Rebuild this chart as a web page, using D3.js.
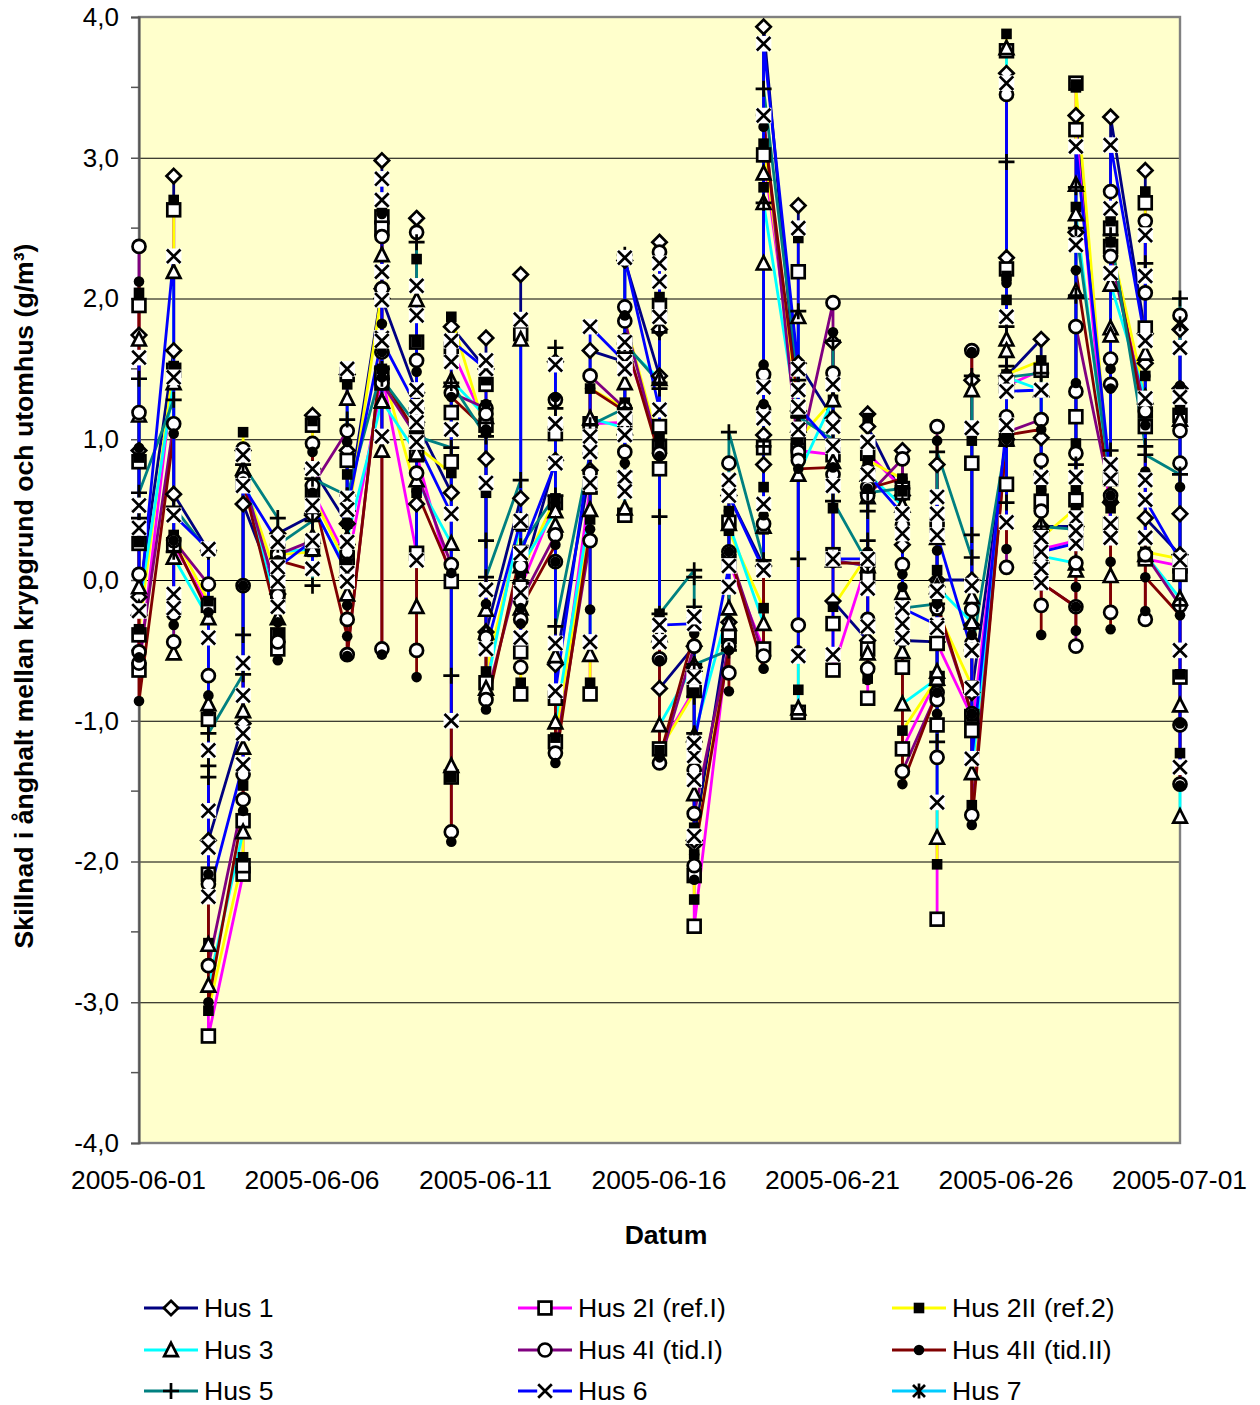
<!DOCTYPE html>
<html><head><meta charset="utf-8">
<script src="https://cdn.jsdelivr.net/npm/d3@7/dist/d3.min.js"></script>
<style>html,body{margin:0;padding:0;background:#fff}svg{display:block}text{font-family:"Liberation Sans",Arial,sans-serif;fill:#000}</style>
</head><body><svg id="c" width="1260" height="1405"></svg>
<script>
const startDate = "2005-06-01", endDate = "2005-07-01";
const yTickValues = [-4,-3,-2,-1,0,1,2,3,4];
const yMinorValues = [-3.5,-2.5,-1.5,-0.5,0.5,1.5,2.5,3.5];
const xTickLabels = ["2005-06-01","2005-06-06","2005-06-11","2005-06-16","2005-06-21","2005-06-26","2005-07-01"];
const seriesNames = ["Hus 1","Hus 2I (ref.I)","Hus 2II (ref.2)","Hus 3","Hus 4I (tid.I)","Hus 4II (tid.II)","Hus 5","Hus 6","Hus 7"];
const seriesColors = ["#000080","#FF00FF","#FFFF00","#00FFFF","#800080","#800000","#008080","#0000FF","#00CCFF"];
const seriesMarkers = ["diamond","square","smallSquare","triangle","circle","smallCircle","plus","cross","star"];
// one inner list per calendar day, 2005-06-01 .. 2005-07-01, in reading order
const hus1 = [[1.74,0.92,-0.12],[1.63,2.87,0.61],[0.21,-1.85],[-1.02,0.92,0.54],[-0.10,0.33],[0.46,1.17,0.79],[0.40,1.46,0.92,0.49],[2.07,2.98,2.0],[1.33,2.57,0.54,1.12],[0.62,1.80],[1.50,1.72,0.86,-0.37],[0.58,2.17,-0.02],[0.85,1.55,-0.6],[0.78,1.63],[1.55,2.27],[1.45,2.40,1.78,-0.77],[-0.47,-0.62,-1.88,-1.85],[-0.3,0.6],[0.1,0.82,1.03,3.93],[1.2,2.66,1.54],[1.15,1.69,-0.15],[-0.43,1.18,1.09],[0.6,0.92,0.25,-0.43],[-0.44,0.82,0],[0,1.42,-0.32,-0.8],[1.0,2.29,3.60,1.45],[1.71,1.01,0.38],[0.38,2.47,3.30],[0.55,3.29],[1.75,2.91,1.54,0.44],[0.18,0.47,1.36,1.78]];
const hus2I = [[1.95,0.84,0.26,-0.39,-0.64],[1.49,2.63,0.25],[-0.18,-0.99,-2.09,-3.24],[-2.09,-2.03,-1.71,0.69],[-0.11,-0.39,-0.49,0.2],[0.22,1.10,0.63],[0.15,1.46,0.85,0.10],[1.40,2.58,2.50,1.47],[0.19,1.02,1.69,0.89],[-0.01,0.84,1.19,-1.40,1.64],[1.1,1.39,-0.73],[0.41,1.75,-0.81,-0.51,-0.05],[0.55,1.04,-0.84,-1.15],[0.66,-0.81,1.11],[1.12,0.46,1.68],[0.95,1.95,1.09,0.79,-1.20],[-0.78,-2.10,-2.46],[-0.4,0.41,-0.4,0.13],[-0.49,0.94,3.02],[1.2,2.19,0.97,-0.94,0.92],[0.89,0.18,-0.31,-0.64],[0.14,0.02,-0.49,-0.84,0.9],[0.65,0.62,-0.62,-1.20],[-0.7,0.39,-0.45,-1.03,-2.41,-0.45],[-0.97,0.83,-1.07],[1.0,3.76,0.68,2.21,1.38],[1.49,0.56,0.22],[0.28,3.53,1.16,0.57,3.2],[0.4,0.72,2.50,2.37],[1.2,2.68,1.09,1.79,0.15],[0.1,0.04,1.17,-0.69]];
const hus2II = [[2.04,0.87,0.27,-0.35],[1.52,2.70,0.32],[-0.15,-0.93,-2.58,-3.06],[-1.97,-1.46,1.05,0.72],[0.0,-0.38,0.18],[0.2,1.13,0.6],[0.1,1.39,0.75,0.4],[2.05,2.63,1.5],[0.62,2.28,1.69,0.95],[0.76,-1.40,1.87],[1.05,1.42,1.24,0.62,-0.65],[0.38,-0.73,0.05],[0.58,0.52,-1.12],[0.43,-0.73,1.36],[1.22,0.7,1.26,1.85],[0.95,2.01,1.02,-0.24,-1.21],[-0.8,-2.27,-1.76,-1.95],[-0.45,0.49,0.35],[-0.2,0.36,0.66,2.79,3.10],[1.2,2.43,-0.78,1.0],[1.28,0.51,-0.19],[0.18,1.15,0.09,-0.7,0.85],[0.72,0.63,-1.07],[-0.7,0.07,-0.17,-0.79,-2.02,-0.22],[-0.75,0.99,-0.97,-1.6],[1.0,3.88,2.16,1.99,1.46],[1.56,0.64,0.30],[0.51,3.52,2.65,0.97,0.64,3.50],[0.6,0.51,2.55,2.40],[1.3,2.76,1.45,0.2],[0.15,1.21,-0.67,-1.23]];
const hus3 = [[1.71,1.17,-0.05,-0.2],[1.40,2.19,-0.52,0.16],[-0.27,-0.88,-2.59,-2.88],[-1.79,-1.19,-0.93,0.79],[-0.27,0.2],[0.22,0.31,0.52],[0.07,1.29,-0.1,0.3],[1.27,2.31,0.92,1.27],[0.90,1.99,-0.19,0.71],[0.26,-1.32,1.42],[1.16,-0.21,-0.37,-0.77],[0.42,1.71,-0.2,0.10],[0.49,0.39,-0.54,-1.01],[0.5,-0.53,1.15],[1.08,0.51,1.40,1.66],[1.43,-0.39,-1.03],[-0.6,-1.52,-1.1],[-0.2,-0.31,0.4],[-0.31,0.38,2.25,2.89,2.68],[1.1,1.87,-0.91,0.75],[1.28,0.84,0.14],[0.1,-0.52,0.59,0.75],[0.53,-0.09,-0.51,-0.88],[-0.7,0.30,0,-0.65,-1.83,-0.05],[-0.3,1.35,-0.12,-1.37],[1.0,3.78,1.71,1.63,1.44],[1.35,0.4,0.17],[0.12,2.81,2.05,0.07,2.6],[0.6,0.03,1.79,1.74,2.10],[1.3,1.61,0.18],[-0.13,1.14,-0.89,-1.68]];
const hus4I = [[2.37,1.19,0.04,-0.51,-0.59],[1.11,-0.24,-0.44,0.28],[-0.03,-0.68,-2.16,-2.74],[-1.56,-1.38,-0.04,0.93,0.72],[-0.11,-0.44,0.18],[0.28,0.97,0.67],[1.06,0.20,-0.28,-0.53],[1.62,2.44,2.07,-0.49,1.40],[1.02,2.47,1.56,-0.50,0.76],[0.11,-1.79,1.33],[1.22,1.18,-0.41,-0.85],[0.1,-0.28,-0.62,-0.15],[0.32,1.28,0.13,-1.23],[0.28,0.76,1.45],[1.22,0.91,1.94,1.84],[0.9,2.33,-0.56,-1.30],[-0.47,-1.35,-2.03,-1.66],[-0.47,0.83,0.13,-0.66,0.2],[-0.54,0.40,1.46,1.21,3.30],[0.91,-0.32,0.85],[1.97,1.47,0.75,0.14],[0.1,0.78,0.66,-0.28,-0.63,0.6],[0.86,0.39,0.11,-1.36],[-0.8,1.09,-0.85,-1.26,-0.2],[-0.95,1.63,-0.21,-0.45,-1.67],[1.0,3.45,1.16,0.09,1.05],[1.14,0.85,0.49,-0.18,-0.02],[-0.19,1.34,0.90,0.12,-0.47,1.8],[0.6,-0.23,1.57,1.39,2.76,2.30],[1.2,2.55,2.04,-0.28,0.18],[-0.18,1.88,1.06,0.83,-1.03,-1.45]];
const hus4II = [[2.12,0.94,0.28,-0.55,-0.86],[1.04,-0.32,0.28],[-0.23,-0.82,-2.09,-3.0],[-1.64,-0.04,0.70],[-0.3,-0.57,0.14],[0.07,0.91,0.62],[-0.40,0.98,0.13,-0.18,-0.54],[1.62,2.60,1.82,-0.53,1.44],[1.04,-0.69,1.48,0.63],[0.05,-1.86,1.30],[1.07,1.25,-0.17,-0.92],[0.19,-0.31,-0.2],[0.25,1.30,0.13,-1.30],[0.36,-0.21,1.36],[1.2,0.83,1.88,1.72],[0.88,-0.57,-1.26],[-0.38,-2.13,-1.95],[-0.5,0.49,-0.79,0.2],[-0.63,0.46,1.53,1.25,3.22],[1.25,-0.50,0.79],[0.8,1.76,0.12],[0.12,0.2,-0.71,0.65],[0.72,0.04,-0.05,-1.45],[-0.8,0.99,0.21,-0.95,-0.17],[-0.95,1.62,-0.39,-0.95,-1.74],[1.0,2.11,0.22,1.07,1.03],[1.07,0.64,-0.39,-0.02],[-0.19,1.40,-0.05,-0.36,2.2],[0.6,-0.35,1.5,1.36,0.13,2.40],[1.1,1.45,0.77,-0.22,0.02],[-0.25,0.66,1.38,-1.02,-1.46]];
const hus5 = [[1.43,0.44,0.62],[1.28,0.20,0.52],[0.2,-1.32,-1.40,-1.09],[-0.67,-0.39,0.82],[0.44,0.25],[0.42,-0.04,0.72],[0.6,1.14,0.0,0.60],[1.5,1.72,1.43],[1.1,2.4,1.22,1.02],[0.94,-0.68,1.40],[1.02,0.28,0.02],[0.71,0.24],[0.6,1.65,1.22,-0.33],[0.9,1.10],[1.22,2.31,0.77,1.68],[1.40,1.76,1.36,0.45,-0.24],[0.07,0.02,-0.19,-0.83,-1.09,-0.6],[-0.5,1.05],[0.14,0.95,2.68,3.49],[1.42,1.91,0.15,1.16],[1.0,1.70,0.56],[0.12,0.28,0.49,0.62],[0.65,-0.2],[-0.17,-1.15,0.91],[0.16,1.45,0.32,-0.5],[1.0,2.97,1.80,0.55,1.52,1.44],[1.47,0.75,0.38],[0.36,2.79,2.02,0.82,2.5],[0.7,0.92,2.45],[0.95,2.25,0.89],[0.75,2.0,-0.18]];
const hus6 = [[1.58,0.53,0.37,-0.22],[2.30,1.44,-0.10,-0.20,0.46],[0.22,-0.41,-1.64,-1.90,-1.21,-2.25],[-1.31,-1.09,-0.82,-0.59,0.89,0.67],[0.27,-0.01,-0.19,0.09],[0.28,0.79,0.08,0.53],[0.05,1.50,0.58,0.27,-0.01,0.5],[1.72,2.85,2.70,2.19,1.99,1.02,1.7],[1.23,2.09,1.88,1.35,1.12,0.14,0.98],[0.47,-1.0,1.07,1.55,1.70],[1.50,1.56,0.69,-0.07,-0.49],[0.42,1.85,-0.41,-0.09,0.19],[0.83,1.53,1.11,-0.45,-0.79],[0.91,-0.44,0.69,1.02,1.80],[1.55,1.50,1.15,1.03,0.73,0.63,1.69,2.29],[1.21,2.25,2.12,1.87,-0.44,-0.32],[-0.31,-0.26,-0.69,-1.82,-1.42,-1.25,-1.16],[0.1,0.71,-0.05,0.60],[0.07,1.37,1.15,0.54,3.30,3.81],[1.50,2.50,1.35,1.07,-0.54,1.23],[0.95,1.39,1.09,0.67,-0.53,0.15],[0.15,0.98,-0.33,-0.06,0.75],[0.47,0.33,-0.31,-0.41,-0.2],[-0.32,0.59,0.47,-1.58,-0.08,-0.34,0.32],[-0.5,1.08,-0.04,-0.50,-0.77,-1.27],[1.1,3.53,1.87,0.41,1.41,1.34],[1.35,0.73,0.3,0.08,-0.02,0.2],[0.26,0.73,0.44,0.35,2.38,3.08],[0.72,0.40,0.30,0.82,2.18,2.64,3.09],[1.7,2.16,2.45,1.29,0.71,0.30,0.57],[0.14,1.30,1.65,-0.5,-1.33]];
const hus7 = [[],[],[],[],[],[],[],[],[],[],[],[],[],[],[],[],[],[],[],[],[],[],[],[],[],[],[],[],[],[],[1.82]];
const allSeries = [hus1,hus2I,hus2II,hus3,hus4I,hus4II,hus5,hus6,hus7];

const svg = d3.select("#c");
const parse = d3.utcParse("%Y-%m-%d");
const x = d3.scaleUtc().domain([parse(startDate),parse(endDate)]).range([139,1180]);
const y = d3.scaleLinear().domain([-4,4]).range([1143,17]);
const DAY = 864e5;

svg.append("rect").attr("x",139).attr("y",17).attr("width",1041).attr("height",1126)
   .attr("fill","#FFFFCC");
svg.append("g").selectAll("line").data(yTickValues.filter(v=>v>-4&&v<4)).join("line")
   .attr("x1",139).attr("x2",1180).attr("y1",d=>y(d)+.5).attr("y2",d=>y(d)+.5)
   .attr("stroke","#000").attr("stroke-width",1);
svg.append("rect").attr("x",139).attr("y",17).attr("width",1041).attr("height",1126)
   .attr("fill","none").attr("stroke","#808080").attr("stroke-width",2.4);

const yAxis = d3.axisLeft(y).tickValues(yTickValues).tickSize(8).tickPadding(12)
   .tickFormat(d=>d3.format(".1f")(d).replace(".",",").replace("−","-"));
const gy = svg.append("g").attr("transform","translate(139,0)").call(yAxis);
gy.select(".domain").attr("stroke","#555").attr("stroke-width",2);
gy.selectAll(".tick line").attr("stroke","#555").attr("stroke-width",1.5);
gy.selectAll("text").attr("font-size",26);
svg.append("g").selectAll("line").data(yMinorValues).join("line")
   .attr("x1",131).attr("x2",139).attr("y1",d=>y(d)).attr("y2",d=>y(d))
   .attr("stroke","#555").attr("stroke-width",1.5);
const xAxis = d3.axisBottom(x).tickValues(xTickLabels.map(parse)).tickSize(0).tickPadding(28)
   .tickFormat(d3.utcFormat("%Y-%m-%d"));
const gx = svg.append("g").attr("transform","translate(-1,1143)").call(xAxis);
gx.select(".domain").remove();
gx.selectAll("text").attr("font-size",26.4).attr("dy",0).attr("y",46);

svg.append("text").attr("transform","translate(33,596) rotate(-90)").attr("text-anchor","middle")
   .attr("font-size",26.6).attr("font-weight","bold").text("Skillnad i ånghalt mellan krypgrund och utomhus (g/m³)");
svg.append("text").attr("x",666).attr("y",1244).attr("text-anchor","middle")
   .attr("font-size",26.6).attr("font-weight","bold").text("Datum");

const flat = s => s.flatMap((vals,i)=>vals.map(v=>({t:new Date(+parse(startDate)+i*DAY),v})));
const line = d3.line().x(d=>x(d.t)).y(d=>y(d.v));
allSeries.forEach((s,k)=>{
  svg.append("path").attr("d",line(flat(s))).attr("fill","none")
     .attr("stroke",seriesColors[k]).attr("stroke-width",2.8).attr("stroke-linejoin","round");
});
function drawMarker(g,type){
  const sw=2.7;
  if(type==="diamond") g.append("path").attr("d","M0,-7.2L7.2,0L0,7.2L-7.2,0Z").attr("fill","#fff").attr("stroke","#000").attr("stroke-width",sw);
  else if(type==="square") g.append("rect").attr("x",-6.4).attr("y",-6.4).attr("width",12.8).attr("height",12.8).attr("fill","#fff").attr("stroke","#000").attr("stroke-width",sw);
  else if(type==="smallSquare") g.append("rect").attr("x",-5.3).attr("y",-5.3).attr("width",10.6).attr("height",10.6).attr("fill","#000");
  else if(type==="triangle") g.append("path").attr("d","M0,-7.2L6.8,6.2L-6.8,6.2Z").attr("fill","#fff").attr("stroke","#000").attr("stroke-width",sw);
  else if(type==="circle") g.append("circle").attr("r",6.5).attr("fill","#fff").attr("stroke","#000").attr("stroke-width",sw);
  else if(type==="smallCircle") g.append("circle").attr("r",5.3).attr("fill","#000");
  else if(type==="plus") g.append("path").attr("d","M-8,0H8M0,-8V8").attr("fill","none").attr("stroke","#000").attr("stroke-width",sw);
  else if(type==="cross"){ g.append("rect").attr("x",-7.8).attr("y",-7.8).attr("width",15.6).attr("height",15.6).attr("fill","#fff");
    g.append("path").attr("d","M-6.8,-6.8L6.8,6.8M-6.8,6.8L6.8,-6.8").attr("fill","none").attr("stroke","#000").attr("stroke-width",sw);}
  else if(type==="star"){ g.append("path").attr("d","M-6,-6L6,6M-6,6L6,-6M0,-7.5V7.5").attr("fill","none").attr("stroke","#000").attr("stroke-width",sw);}
}
allSeries.forEach((s,k)=>{
  const g=svg.append("g");
  flat(s).forEach(d=>{ drawMarker(g.append("g").attr("transform",`translate(${x(d.t)},${y(d.v)})`),seriesMarkers[k]); });
});

const legendCols=[144,518,892], legendRows=[1308,1350,1391];
seriesNames.forEach((n,k)=>{
  const lx=legendCols[k%3], ly=legendRows[Math.floor(k/3)];
  const g=svg.append("g").attr("transform",`translate(${lx},${ly})`);
  g.append("line").attr("x1",0).attr("x2",54).attr("stroke",seriesColors[k]).attr("stroke-width",2.8);
  drawMarker(g.append("g").attr("transform","translate(27,0)"),seriesMarkers[k]);
  g.append("text").attr("x",60).attr("y",9).attr("font-size",26.6).text(n);
});
</script></body></html>
